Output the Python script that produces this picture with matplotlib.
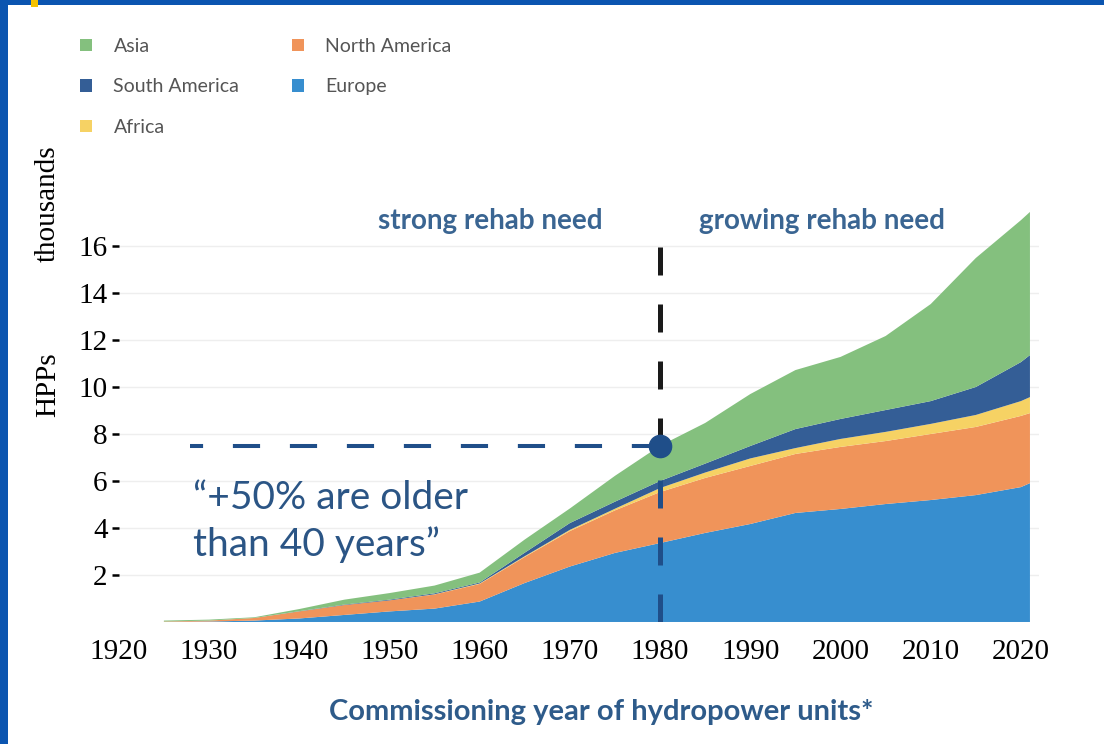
import matplotlib.pyplot as plt
from matplotlib.patches import Patch, Rectangle

# Hydropower units by commissioning year, cumulative, thousands
years = [1925, 1930, 1935, 1940, 1945, 1950, 1955, 1960, 1965, 1970, 1975,
         1980, 1985, 1990, 1995, 2000, 2005, 2010, 2015, 2020, 2021]
europe = [0.0, 0.02, 0.06, 0.15, 0.30, 0.45, 0.57, 0.87, 1.66, 2.36, 2.94,
          3.36, 3.79, 4.17, 4.64, 4.81, 5.02, 5.19, 5.40, 5.74, 5.91]
north_america = [0.02, 0.04, 0.11, 0.30, 0.42, 0.47, 0.60, 0.75, 1.11, 1.51, 1.81,
                 2.17, 2.34, 2.47, 2.51, 2.64, 2.68, 2.81, 2.90, 3.03, 2.98]
africa = [0.0, 0.0, 0.0, 0.0, 0.0, 0.0, 0.01, 0.02, 0.03, 0.05, 0.07,
          0.17, 0.23, 0.32, 0.25, 0.34, 0.39, 0.43, 0.51, 0.63, 0.68]
south_america = [0.0, 0.0, 0.0, 0.01, 0.02, 0.03, 0.04, 0.04, 0.15, 0.29, 0.30,
                 0.30, 0.38, 0.53, 0.81, 0.85, 0.93, 0.97, 1.19, 1.66, 1.79]
asia = [0.04, 0.04, 0.03, 0.09, 0.21, 0.28, 0.33, 0.42, 0.56, 0.62, 1.10,
        1.50, 1.73, 2.21, 2.51, 2.64, 3.15, 4.13, 5.49, 6.04, 6.09]

region_names = ["Europe", "North America", "Africa", "South America", "Asia"]
region_colors = ["#378ecf", "#f0945a", "#f6d264", "#345e96", "#84c07e"]

x_ticks = list(range(1920, 2021, 10))
y_ticks = [2, 4, 6, 8, 10, 12, 14, 16]
cutoff_year = 1980

navy = "#1f4e89"
serif = "Liberation Serif"
plt.rcParams["font.family"] = ["Lato", "DejaVu Sans"]

fig = plt.figure(figsize=(11.04, 7.44), dpi=100)
ax = fig.add_axes([0.1076, 0.164, 0.8335, 0.5685])

ax.stackplot(years, europe, north_america, africa, south_america, asia,
             colors=region_colors, linewidth=0, zorder=2)

ax.set_xlim(1920, 2022)
ax.set_ylim(0, 18)
for s in ax.spines.values():
    s.set_visible(False)

ax.set_yticks(y_ticks)
ax.set_yticklabels([str(v) for v in y_ticks], fontfamily=serif, fontsize=21)
ax.tick_params(axis="y", length=5, width=1.8, pad=3, color="black")
ax.set_xticks(x_ticks)
ax.set_xticklabels([str(v) for v in x_ticks], fontfamily=serif, fontsize=21)
ax.tick_params(axis="x", length=0, pad=12)
ax.grid(axis="y", color="#eeeeee", linewidth=1, zorder=0)
ax.set_axisbelow(True)

# marker on the total at the cutoff year
i = years.index(cutoff_year)
total = europe[i] + north_america[i] + africa[i] + south_america[i] + asia[i]

ax.plot([1927.9, cutoff_year], [total, total], color=navy, lw=2.9,
        linestyle=(3.5, (6.75, 7.4)), solid_capstyle="butt", zorder=3)
ax.plot([cutoff_year, cutoff_year], [total, 16.6], color="#1a1a1a", lw=3.6,
        linestyle=(0, (5.6, 5.8)), zorder=3)
ax.plot([cutoff_year, cutoff_year], [0, total], color=navy, lw=3.6,
        linestyle=(0, (5.6, 5.8)), zorder=3)
ax.plot([cutoff_year], [total], "o", color=navy, markersize=16, zorder=4)

ax.text(1961.2, 17.06, "strong rehab need", color="#3a6592", fontsize=20,
        fontweight="bold", ha="center", va="center")
ax.text(1998.0, 17.06, "growing rehab need", color="#3a6592", fontsize=20,
        fontweight="bold", ha="center", va="center")
ax.text(1928.2, 4.28, "\u201c+50% are older\nthan 40 years\u201d", color="#2b5585",
        fontsize=28, ha="left", va="center", linespacing=1.35)

fig.text(0.545, 1 - 712 / 744, "Commissioning year of hydropower units*",
         color="#2e5b8a", fontsize=21, fontweight="bold", ha="center", va="center")

fig.text(48 / 1104, 1 - 204 / 744, "thousands", family=serif, fontsize=21,
         rotation=90, ha="center", va="center")
fig.text(48 / 1104, 1 - 385 / 744, "HPPs", family=serif, fontsize=21,
         rotation=90, ha="center", va="center")

# legend in two columns, Asia first
order = [4, 3, 2, 1, 0]
handles = [Patch(facecolor=region_colors[k], edgecolor="none") for k in order]
labels = [region_names[k] for k in order]
fig.legend(handles, labels, loc="upper left", bbox_to_anchor=(80 / 1104, 1 - 38 / 744),
           ncol=2, frameon=False, fontsize=14, handlelength=0.62, handleheight=0.62,
           handletextpad=1.1, columnspacing=2.7, labelspacing=1.2,
           borderpad=0, borderaxespad=0, labelcolor="#555555")

# frame strips
fig.patches.append(Rectangle((0, 0), 8 / 1104, 1, transform=fig.transFigure,
                             facecolor="#0b55b0", edgecolor="none"))
fig.patches.append(Rectangle((0, 1 - 5 / 744), 1, 5 / 744, transform=fig.transFigure,
                             facecolor="#0b55b0", edgecolor="none"))
fig.patches.append(Rectangle((31 / 1104, 1 - 7 / 744), 7 / 1104, 7 / 744,
                             transform=fig.transFigure, facecolor="#f5c200",
                             edgecolor="none"))

fig.savefig("out.png", dpi=100)
